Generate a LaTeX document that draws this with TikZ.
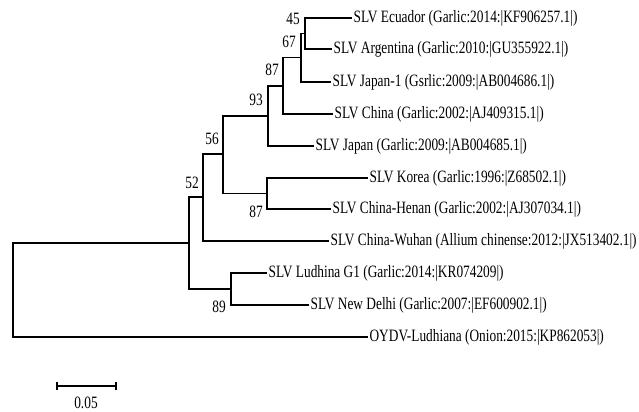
\documentclass[tikz,border=0pt]{standalone}
\usepackage{fontspec}
\setmainfont{Liberation Serif}[FakeStretch=0.77]
\usepackage{tikz}

\tikzset{
  branch/.style={line width=0.8pt},
  leaf/.style={anchor=west, inner sep=1pt, font=\fontsize{13}{14}\selectfont},
  boot/.style={inner sep=0pt, font=\fontsize{13}{14}\selectfont}
}

\begin{document}
\begin{tikzpicture}[x=0.75pt, y=-0.75pt]
    \useasboundingbox (0,0) rectangle (639,411);
    % internal nodes
    \coordinate (root) at (13,289.5);
    \coordinate (nin) at (189,243);
    \coordinate (n52) at (203,197);
    \coordinate (n56) at (223,154);
    \coordinate (n93) at (268,116);
    \coordinate (n87) at (283,86);
    \coordinate (n67) at (301,57.5);
    \coordinate (n45) at (305,33.5);
    \coordinate (nkh) at (267,193.5);
    \coordinate (n89) at (231,289);
    % leaves
    \node[leaf] (ecuador) at (352,18) {SLV Ecuador (Garlic:2014:|KF906257.1|)};
    \node[leaf] (argentina) at (332,49) {SLV Argentina (Garlic:2010:|GU355922.1|)};
    \node[leaf] (japan1) at (331,82) {SLV Japan-1 (Gsrlic:2009:|AB004686.1|)};
    \node[leaf] (china) at (333,114) {SLV China (Garlic:2002:|AJ409315.1|)};
    \node[leaf] (japan) at (314,146) {SLV Japan (Garlic:2009:|AB004685.1|)};
    \node[leaf] (korea) at (368,178) {SLV Korea (Garlic:1996:|Z68502.1|)};
    \node[leaf] (henan) at (331,209) {SLV China-Henan (Garlic:2002:|AJ307034.1|)};
    \node[leaf] (wuhan) at (329,241) {SLV China-Wuhan (Allium chinense:2012:|JX513402.1|)};
    \node[leaf] (ludhina) at (267,273) {SLV Ludhina G1 (Garlic:2014:|KR074209|)};
    \node[leaf] (delhi) at (309,305) {SLV New Delhi (Garlic:2007:|EF600902.1|)};
    \node[leaf] (oydv) at (368,337) {OYDV-Ludhiana (Onion:2015:|KP862053|)};
    % branches
    \draw[branch] (n45) |- (ecuador.west);
    \draw[branch] (n45) |- (argentina.west);
    \draw[branch] (n67) |- (n45);
    \draw[branch] (n67) |- (japan1.west);
    \draw[branch] (n87) |- (n67);
    \draw[branch] (n87) |- (china.west);
    \draw[branch] (n93) |- (n87);
    \draw[branch] (n93) |- (japan.west);
    \draw[branch] (nkh) |- (korea.west);
    \draw[branch] (nkh) |- (henan.west);
    \draw[branch] (n56) |- (n93);
    \draw[branch] (n56) |- (nkh);
    \draw[branch] (n52) |- (n56);
    \draw[branch] (n52) |- (wuhan.west);
    \draw[branch] (n89) |- (ludhina.west);
    \draw[branch] (n89) |- (delhi.west);
    \draw[branch] (nin) |- (n52);
    \draw[branch] (nin) |- (n89);
    \draw[branch] (root) |- (nin);
    \draw[branch] (root) |- (oydv.west);
    % bootstrap values
    \node[boot] (b45) at (293,19) {45};
    \node[boot] (b67) at (289,42) {67};
    \node[boot] (b87a) at (272,70) {87};
    \node[boot] (b93) at (256,100) {93};
    \node[boot] (b56) at (212,139) {56};
    \node[boot] (b52) at (192,183) {52};
    \node[boot] (b87b) at (256,212) {87};
    \node[boot] (b89) at (219,307) {89};
    % scale bar
    \coordinate (sbl) at (57,386);
    \coordinate (sbr) at (116,386);
    \draw[branch] (sbl) -- (sbr);
    \draw[branch] ([yshift=-3pt]sbl) -- ([yshift=3pt]sbl);
    \draw[branch] ([yshift=-3pt]sbr) -- ([yshift=3pt]sbr);
    \node[boot] (sblabel) at (86,403) {0.05};
\end{tikzpicture}
\end{document}
